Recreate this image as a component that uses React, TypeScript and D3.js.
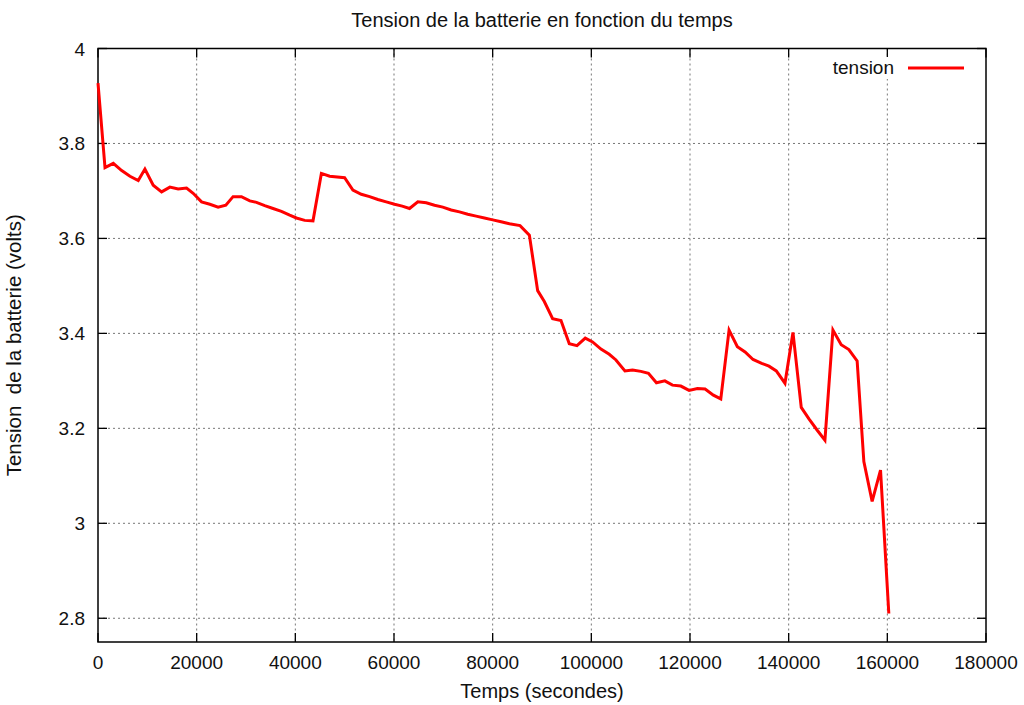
import React from "react";
import * as d3 from "d3";

const timeSeconds = [
  0, 1420, 3100, 4800, 6480, 8160, 9510, 11190, 12890, 14570, 16250, 17950, 19290, 20990, 22670, 24350, 25910, 27380, 29080, 30770,
  32120, 33800, 35480, 37180, 38860, 40220, 41900, 43580, 45280, 46960, 49990, 51670, 53370, 55050, 56730, 58430, 60110, 61670, 63150, 64830,
  66530, 68210, 69890, 71590, 73270, 74950, 76650, 78330, 80010, 81710, 83390, 85550, 87440, 89120, 90470, 92150, 93850, 95530, 97090, 98770,
  100250, 101950, 103630, 104990, 106810, 108350, 110050, 111580, 113200, 114900, 116440, 118140, 119820, 121500, 123060, 124740, 126240, 127920, 129600, 131160,
  132780, 134530, 136010, 137490, 139250, 140870, 142550, 144110, 145790, 147350, 148970, 150650, 152200, 153880, 155240, 156920, 158620, 160300,
];
const tensionVolts = [
  3.927, 3.749, 3.758, 3.743, 3.731, 3.722, 3.746, 3.712, 3.698, 3.708, 3.704, 3.706, 3.695, 3.677, 3.672, 3.666, 3.670, 3.688, 3.688, 3.679,
  3.676, 3.669, 3.663, 3.657, 3.649, 3.643, 3.638, 3.637, 3.737, 3.731, 3.728, 3.702, 3.693, 3.688, 3.682, 3.677, 3.672, 3.668, 3.663, 3.677,
  3.675, 3.670, 3.666, 3.660, 3.656, 3.651, 3.647, 3.643, 3.639, 3.635, 3.631, 3.627, 3.607, 3.490, 3.467, 3.431, 3.427, 3.378, 3.374, 3.390,
  3.382, 3.367, 3.356, 3.344, 3.321, 3.323, 3.320, 3.316, 3.296, 3.300, 3.291, 3.289, 3.280, 3.284, 3.283, 3.270, 3.262, 3.407, 3.372, 3.361,
  3.345, 3.337, 3.331, 3.321, 3.295, 3.402, 3.244, 3.220, 3.196, 3.175, 3.407, 3.376, 3.366, 3.342, 3.130, 3.046, 3.112, 2.810,
];
const xTicks = [0, 20000, 40000, 60000, 80000, 100000, 120000, 140000, 160000, 180000];
const yTicks = [2.8, 3.0, 3.2, 3.4, 3.6, 3.8, 4.0];
const xDomain = [0, 180000];
const yDomain = [2.75, 4];

const title = "Tension de la batterie en fonction du temps";
const xLabel = "Temps (secondes)";
const yLabel = "Tension  de la batterie (volts)";
const seriesName = "tension";

export default function App() {
  const W = 1024, H = 705;
  const L = 98, R = 986, T = 48.5, B = 642;
  const x = d3.scaleLinear().domain(xDomain).range([L, R]);
  const y = d3.scaleLinear().domain(yDomain).range([B, T]);
  const data = timeSeconds.map((t, i) => [t, tensionVolts[i]] as [number, number]);
  const line = d3.line<[number, number]>().x(d => x(d[0])).y(d => y(d[1]));
  const font = "'Liberation Sans', Arial, Helvetica, sans-serif";
  const fs = 19;
  const tick = 9;
  const yFmt = (v: number) => (Math.abs(v - Math.round(v)) < 1e-9 ? String(Math.round(v)) : v.toFixed(1));
  return (
    <svg width={W} height={H} style={{ position: "absolute", left: 0, top: 0, background: "#fff" }} fontFamily={font}>
      <rect x={0} y={0} width={W} height={H} fill="#fff" />
      {/* grid */}
      <g stroke="#777" strokeWidth={1} strokeDasharray="2,3">
        {xTicks.filter(v => v > xDomain[0] && v < xDomain[1]).map(v => (
          <line key={"gx" + v} x1={x(v)} x2={x(v)} y1={T} y2={B} />
        ))}
        {yTicks.filter(v => v > yDomain[0] && v < yDomain[1]).map(v => (
          <line key={"gy" + v} x1={L} x2={R} y1={y(v)} y2={y(v)} />
        ))}
      </g>
      {/* ticks */}
      <g stroke="#000" strokeWidth={1.3}>
        {xTicks.map(v => (
          <g key={"tx" + v}>
            <line x1={x(v)} x2={x(v)} y1={B} y2={B - tick} />
            <line x1={x(v)} x2={x(v)} y1={T} y2={T + tick} />
          </g>
        ))}
        {yTicks.map(v => (
          <g key={"ty" + v}>
            <line x1={L} x2={L + tick} y1={y(v)} y2={y(v)} />
            <line x1={R} x2={R - tick} y1={y(v)} y2={y(v)} />
          </g>
        ))}
      </g>
      {/* legend background */}
      <rect x={826} y={57} width={145} height={22} fill="#fff" />
      {/* frame */}
      <rect x={L} y={T} width={R - L} height={B - T} fill="none" stroke="#000" strokeWidth={1.5} />
      {/* data */}
      <path d={line(data) || ""} fill="none" stroke="#ff0000" strokeWidth={3} strokeLinejoin="miter" />
      {/* tick labels */}
      <g fontSize={fs} fill="#111">
        {xTicks.map(v => (
          <text key={"lx" + v} x={x(v)} y={669} textAnchor="middle">{String(v)}</text>
        ))}
        {yTicks.map(v => (
          <text key={"ly" + v} x={85} y={y(v) + 7} textAnchor="end">{yFmt(v)}</text>
        ))}
      </g>
      {/* legend */}
      <text x={894} y={74} fontSize={fs} textAnchor="end" fill="#111">{seriesName}</text>
      <line x1={908} x2={964} y1={68} y2={68} stroke="#ff0000" strokeWidth={3} />
      {/* titles */}
      <text x={(L + R) / 2} y={27} fontSize={20} textAnchor="middle" fill="#111">{title}</text>
      <text x={(L + R) / 2} y={698} fontSize={20} textAnchor="middle" fill="#111">{xLabel}</text>
      <text transform={`translate(21,${(T + B) / 2}) rotate(-90)`} fontSize={20.5} textAnchor="middle" fill="#111" style={{ whiteSpace: "pre" }}>{yLabel}</text>
    </svg>
  );
}
